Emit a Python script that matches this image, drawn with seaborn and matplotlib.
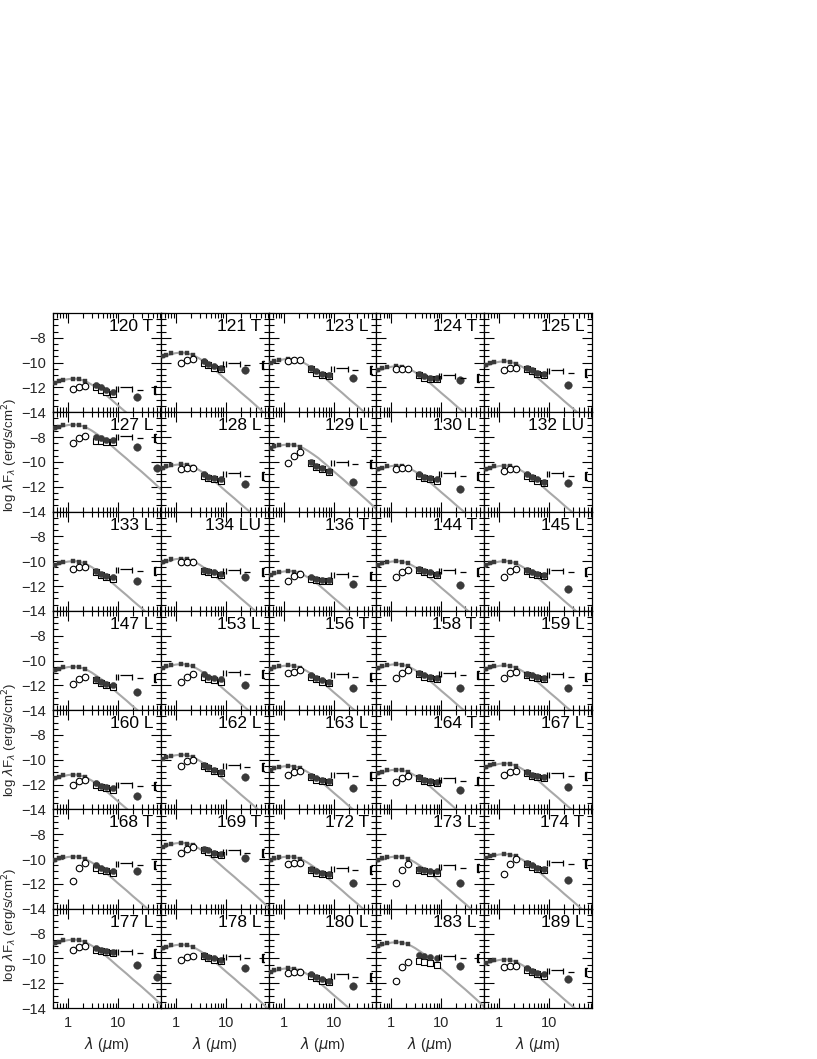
import numpy as np
import pandas as pd
import matplotlib
matplotlib.use("Agg")
import matplotlib.pyplot as plt
import seaborn as sns
from matplotlib.ticker import FixedLocator, NullFormatter, FixedFormatter, MultipleLocator

sns.set_theme(style="ticks")
plt.rcParams['font.family'] = ['Liberation Sans', 'DejaVu Sans']
plt.rcParams['mathtext.fontset'] = 'dejavusans'

# ---------------- data ----------------
names = ["120 T", "121 T", "123 L", "124 T", "125 L",
         "127 L", "128 L", "129 L", "130 L", "132 LU",
         "133 L", "134 LU", "136 T", "144 T", "145 L",
         "147 L", "153 L", "156 T", "158 T", "159 L",
         "160 L", "162 L", "163 L", "164 T", "167 L",
         "168 T", "169 T", "172 T", "173 L", "174 T",
         "177 L", "178 L", "180 L", "183 L", "189 L"]

# peak level of the photospheric model (log lambda F_lambda)
peak = [-11.3, -9.2, -9.7, -10.3, -9.9,
        -7.0, -10.2, -8.6, -10.3, -10.3,
        -10.0, -9.8, -10.8, -10.0, -10.0,
        -10.5, -10.3, -10.4, -10.3, -10.4,
        -11.2, -9.6, -10.5, -10.8, -10.3,
        -9.8, -8.7, -9.8, -9.8, -9.6,
        -8.5, -8.9, -10.8, -8.7, -10.1]

# shared model shape (relative to peak)
model_lam = [0.5, 0.6, 0.7, 0.85, 1.0, 1.2, 1.45, 1.7, 2.0, 2.5, 3.0, 4.0,
             5.0, 7.0, 10, 15, 20, 30, 50, 72]
model_rel = [-0.5, -0.32, -0.2, -0.09, -0.03, 0.0, 0.0, -0.05, -0.13, -0.3,
             -0.48, -0.82, -1.1, -1.6, -2.15, -2.75, -3.2, -3.8, -4.6, -5.2]

# dereddened optical / near-IR photometry (relative to peak)
phot_lam = [0.55, 0.65, 0.8, 1.25, 1.65, 2.17]
phot_rel = [-0.3, -0.15, -0.06, 0.0, -0.05, -0.18]

# observed (not dereddened) J, H, K
nir_lam = [1.25, 1.65, 2.17]
nir_obs = [[-12.1, -12.0, -11.9], [-10.0, -9.8, -9.7], [-9.9, -9.8, -9.8], [-10.5, -10.5, -10.5], [-10.6, -10.4, -10.4],
           [-8.5, -8.1, -7.9], [-10.6, -10.5, -10.5], [-10.1, -9.5, -9.2], [-10.6, -10.5, -10.5], [-10.7, -10.6, -10.6],
           [-10.6, -10.5, -10.5], [-10.1, -10.1, -10.1], [-11.6, -11.2, -11.0], [-11.3, -10.9, -10.7], [-11.3, -10.8, -10.6],
           [-11.9, -11.5, -11.3], [-11.7, -11.3, -11.1], [-11.0, -10.9, -10.8], [-11.4, -11.0, -10.8], [-11.4, -11.0, -10.9],
           [-12.0, -11.7, -11.6], [-10.5, -10.1, -10.0], [-11.2, -11.0, -10.9], [-11.8, -11.5, -11.3], [-11.2, -11.0, -10.9],
           [-11.8, -10.7, -10.3], [-9.5, -9.2, -9.0], [-10.4, -10.3, -10.3], [-11.9, -10.9, -10.4], [-11.2, -10.4, -10.0],
           [-9.3, -9.1, -9.0], [-10.1, -9.9, -9.8], [-11.2, -11.1, -11.1], [-11.8, -10.7, -10.3], [-10.7, -10.6, -10.6]]

# IRAC 3.6, 4.5, 5.8, 8.0 um
irac_lam = [3.6, 4.5, 5.8, 8.0]
irac_fill = [[-11.8, -12.0, -12.2, -12.4], [-9.9, -10.1, -10.3, -10.4], [-10.4, -10.7, -10.9, -11.0], [-10.9, -11.1, -11.2, -11.2], [-10.4, -10.6, -10.8, -10.9],
             [-8.0, -8.1, -8.2, -8.2], [-11.0, -11.2, -11.3, -11.4], [-10.0, -10.3, -10.5, -10.7], [-11.0, -11.2, -11.3, -11.4], [-11.0, -11.2, -11.4, -11.6],
             [-10.8, -11.0, -11.2, -11.3], [-10.7, -10.8, -10.9, -11.0], [-11.3, -11.4, -11.5, -11.5], [-10.6, -10.8, -10.9, -11.0], [-10.7, -10.9, -11.0, -11.1],
             [-11.5, -11.7, -11.9, -12.0], [-11.1, -11.3, -11.4, -11.5], [-11.2, -11.4, -11.6, -11.7], [-11.0, -11.2, -11.3, -11.4], [-11.1, -11.2, -11.3, -11.4],
             [-11.9, -12.1, -12.2, -12.3], [-10.4, -10.6, -10.8, -11.0], [-11.3, -11.5, -11.6, -11.7], [-11.4, -11.6, -11.7, -11.8], [-11.0, -11.2, -11.3, -11.4],
             [-10.5, -10.7, -10.9, -11.0], [-9.2, -9.3, -9.5, -9.6], [-10.8, -11.0, -11.1, -11.2], [-10.8, -10.9, -11.0, -11.0], [-10.3, -10.5, -10.7, -10.8],
             [-9.2, -9.3, -9.4, -9.5], [-9.7, -9.9, -10.0, -10.1], [-11.3, -11.5, -11.7, -11.8], [-9.7, -9.8, -9.9, -10.0], [-10.8, -11.0, -11.2, -11.3]]
irac_open = [[-12.0, -12.2, -12.4, -12.5], [-10.0, -10.2, -10.4, -10.5], [-10.5, -10.8, -11.0, -11.1], [-11.0, -11.2, -11.3, -11.3], [-10.5, -10.7, -10.9, -11.0],
             [-8.3, -8.3, -8.4, -8.4], [-11.1, -11.3, -11.4, -11.5], [-10.1, -10.4, -10.6, -10.8], [-11.1, -11.3, -11.4, -11.5], [-11.1, -11.3, -11.5, -11.7],
             [-10.9, -11.1, -11.3, -11.4], [-10.8, -10.9, -11.0, -11.1], [-11.4, -11.5, -11.6, -11.6], [-10.7, -10.9, -11.0, -11.1], [-10.8, -11.0, -11.1, -11.2],
             [-11.6, -11.8, -12.0, -12.1], [-11.3, -11.5, -11.6, -11.7], [-11.3, -11.5, -11.7, -11.8], [-11.1, -11.3, -11.4, -11.5], [-11.2, -11.3, -11.4, -11.5],
             [-12.0, -12.2, -12.3, -12.4], [-10.5, -10.7, -10.9, -11.1], [-11.4, -11.6, -11.7, -11.8], [-11.5, -11.7, -11.8, -11.9], [-11.1, -11.3, -11.4, -11.5],
             [-10.7, -10.9, -11.0, -11.1], [-9.3, -9.4, -9.6, -9.7], [-10.9, -11.1, -11.2, -11.3], [-10.9, -11.0, -11.1, -11.1], [-10.4, -10.6, -10.8, -10.9],
             [-9.3, -9.4, -9.5, -9.6], [-9.8, -10.0, -10.1, -10.2], [-11.4, -11.6, -11.8, -11.9], [-10.2, -10.3, -10.4, -10.5], [-10.9, -11.1, -11.3, -11.4]]

# MIPS 24 um
mips_lam = 24.0
mips24 = [-12.8, -10.6, -11.2, -11.4, -11.8,
          -8.8, -11.8, -11.6, -12.2, -11.7,
          -11.6, -11.3, -11.8, -11.9, -12.2,
          -12.5, -12.0, -12.2, -12.2, -12.2,
          -12.9, -11.4, -12.3, -12.4, -12.2,
          -11.0, -9.9, -11.9, -11.9, -11.7,
          -10.5, -10.8, -12.2, -10.6, -11.7]

# long-wavelength point (only in two panels)
far_lam = 60.0
far_val = {"127 L": -10.5, "177 L": -11.5}

# level of the upper-limit symbols
ul_level = [-12.1, -10.1, -10.5, -11.1, -10.7,
            -8.0, -11.0, -10.1, -11.0, -11.0,
            -10.7, -10.8, -11.1, -10.8, -10.8,
            -11.3, -11.0, -11.2, -11.1, -11.2,
            -12.0, -10.5, -11.2, -11.6, -11.2,
            -10.4, -9.4, -10.8, -10.6, -10.3,
            -9.5, -9.9, -11.4, -9.9, -11.0]
ul_lam = [9.0, 10.0, 14.5, 19.0, 27.0, 55.0]
ul_off = [0.0, 0.0, 0.1, 0.0, -0.1, -0.1]
ul_mark = ['|', '|', '_', '|', '_', '$[$']
ul_size = [5, 5, 9, 5, 5, 6]

# ---------------- figure ----------------
W, H = 817, 1059
fig = plt.figure(figsize=(W / 100, H / 100), dpi=100)
left, right, top, bottom = 53 / W, 592 / W, 1 - 313 / H, 1 - 1008 / H
gs = fig.add_gridspec(7, 5, left=left, right=right, top=top, bottom=bottom,
                      wspace=0, hspace=0)

dark = '#3a3a3a'
for i, name in enumerate(names):
    r, c = divmod(i, 5)
    ax = fig.add_subplot(gs[r, c])
    P = peak[i]
    mdf = pd.DataFrame({'lam': model_lam, 'f': np.array(model_rel) + P})
    sns.lineplot(data=mdf, x='lam', y='f', ax=ax, color='#a8a8a8', lw=1.5,
                 sort=False, zorder=2)
    pdf = pd.DataFrame({'lam': phot_lam, 'f': np.array(phot_rel) + P})
    sns.scatterplot(data=pdf, x='lam', y='f', ax=ax, color=dark, s=12,
                    marker='s', edgecolor=dark, linewidth=0.3, zorder=4)
    ndf = pd.DataFrame({'lam': nir_lam, 'f': nir_obs[i]})
    sns.scatterplot(data=ndf, x='lam', y='f', ax=ax, facecolor='white',
                    edgecolor='black', s=22, linewidth=0.8, marker='o', zorder=5)
    idf = pd.DataFrame({'lam': irac_lam, 'f': irac_open[i]})
    sns.scatterplot(data=idf, x='lam', y='f', ax=ax, facecolor='white',
                    edgecolor='black', s=20, linewidth=0.8, marker='s', zorder=5)
    fdf = pd.DataFrame({'lam': irac_lam, 'f': irac_fill[i]})
    sns.scatterplot(data=fdf, x='lam', y='f', ax=ax, color=dark, s=20,
                    edgecolor=dark, linewidth=0.3, marker='o', zorder=6)
    mdf24 = pd.DataFrame({'lam': [mips_lam], 'f': [mips24[i]]})
    sns.scatterplot(data=mdf24, x='lam', y='f', ax=ax, color=dark, s=30,
                    edgecolor=dark, linewidth=0.3, marker='o', zorder=6)
    if name in far_val:
        fd = pd.DataFrame({'lam': [far_lam], 'f': [far_val[name]]})
        sns.scatterplot(data=fd, x='lam', y='f', ax=ax, color=dark, s=30,
                        edgecolor=dark, linewidth=0.3, marker='o', zorder=6,
                        clip_on=False)
    for lam, off, mk, sz in zip(ul_lam, ul_off, ul_mark, ul_size):
        ax.plot([lam], [ul_level[i] + off], marker=mk, ms=sz, color='black',
                mew=0.9, ls='none', zorder=6)

    ax.set_xscale('log')
    ax.set_xlim(0.5, 72)
    ax.set_ylim(-14, -6)
    ax.set_xlabel('')
    ax.set_ylabel('')
    ax.xaxis.set_major_locator(FixedLocator([1, 10]))
    ax.xaxis.set_minor_locator(FixedLocator([0.5, 0.6, 0.7, 0.8, 0.9, 2, 3, 4, 5, 6, 7, 8, 9,
                                             20, 30, 40, 50, 60, 70]))
    ax.xaxis.set_minor_formatter(NullFormatter())
    ax.yaxis.set_major_locator(FixedLocator([-14, -12, -10, -8]))
    ax.yaxis.set_minor_locator(MultipleLocator(0.5))
    ax.tick_params(which='both', direction='in', top=True, right=True,
                   color='black', width=0.8)
    ax.tick_params(which='major', length=7)
    ax.tick_params(which='minor', length=3.5)
    for sp in ax.spines.values():
        sp.set_linewidth(0.9)
        sp.set_color('black')
    if c == 0:
        ax.yaxis.set_major_formatter(FixedFormatter(['\u221214', '\u221212', '\u221210', '\u22128']))
        ax.tick_params(axis='y', labelsize=10.5, pad=5)
    else:
        ax.set_yticklabels([])
    if r == 6:
        ax.xaxis.set_major_formatter(FixedFormatter(['1', '10']))
        ax.tick_params(axis='x', labelsize=10.5, pad=6)
        ax.set_xlabel(r'$\lambda$ ($\mu$m)', fontsize=10.5, labelpad=3)
    else:
        ax.set_xticklabels([])
    ax.text(0.93, 0.94, name, transform=ax.transAxes, ha='right', va='top',
            fontsize=12.5, color='black', zorder=8)

ylab = r'log $\lambda$F$_\lambda$ (erg/s/cm$^2$)'
for yc in [455, 740, 925]:
    fig.text(10 / W, 1 - yc / H, ylab, rotation=90, ha='center', va='center',
             fontsize=9.5)

fig.savefig('out.png', dpi=100, facecolor='white')
